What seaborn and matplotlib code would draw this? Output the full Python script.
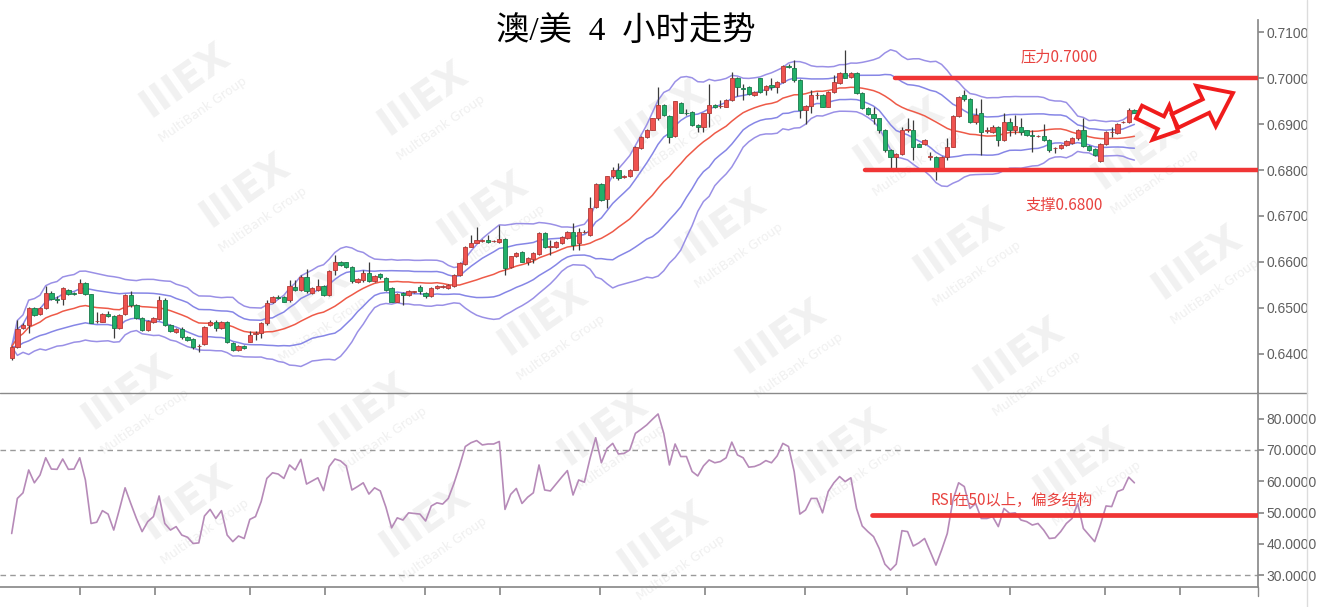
import numpy as np
import pandas as pd
import matplotlib
matplotlib.use("Agg")
import matplotlib.pyplot as plt
import seaborn as sns
from matplotlib.patches import Polygon
from matplotlib.lines import Line2D

sns.set_theme(style="white")
plt.rcParams["font.family"] = ["Liberation Sans", "Noto Sans CJK SC", "DejaVu Sans"]

W, H = 1334, 607

open_ = [0.6391, 0.6416, 0.6456, 0.6463, 0.6499, 0.6487, 0.6499, 0.6533, 0.6519, 0.6519,
         0.6539, 0.6532, 0.6533, 0.6555, 0.6530, 0.6471, 0.6470, 0.6488, 0.6483, 0.6456,
         0.6487, 0.6528, 0.6507, 0.6479, 0.6452, 0.6470, 0.6475, 0.6517, 0.6463, 0.6448,
         0.6454, 0.6438, 0.6432, 0.6417, 0.6422, 0.6463, 0.6470, 0.6456, 0.6470, 0.6423,
         0.6409, 0.6417, 0.6427, 0.6444, 0.6445, 0.6468, 0.6512, 0.6524, 0.6524, 0.6517,
         0.6546, 0.6539, 0.6567, 0.6533, 0.6539, 0.6548, 0.6528, 0.6583, 0.6601, 0.6599,
         0.6590, 0.6557, 0.6561, 0.6577, 0.6559, 0.6573, 0.6565, 0.6543, 0.6514, 0.6532,
         0.6528, 0.6535, 0.6545, 0.6533, 0.6526, 0.6543, 0.6546, 0.6543, 0.6548, 0.6572,
         0.6596, 0.6633, 0.6642, 0.6646, 0.6648, 0.6645, 0.6644, 0.6650, 0.6590, 0.6613,
         0.6622, 0.6601, 0.6606, 0.6617, 0.6664, 0.6632, 0.6632, 0.6642, 0.6652, 0.6666,
         0.6641, 0.6665, 0.6659, 0.6719, 0.6770, 0.6736, 0.6786, 0.6800, 0.6784, 0.6786,
         0.6801, 0.6847, 0.6871, 0.6888, 0.6912, 0.6941, 0.6917, 0.6874, 0.6946, 0.6925,
         0.6927, 0.6898, 0.6893, 0.6923, 0.6941, 0.6939, 0.6938, 0.6952, 0.7001, 0.6978,
         0.6981, 0.6963, 0.6999, 0.6973, 0.6985, 0.6981, 0.6992, 0.7026, 0.7021, 0.6996,
         0.6930, 0.6939, 0.6962, 0.6963, 0.6938, 0.6970, 0.6990, 0.7010, 0.7003, 0.7010,
         0.6967, 0.6934, 0.6922, 0.6912, 0.6888, 0.6843, 0.6829, 0.6835, 0.6888, 0.6887,
         0.6857, 0.6857, 0.6829, 0.6829, 0.6804, 0.6828, 0.6851, 0.6917, 0.6963, 0.6954,
         0.6905, 0.6923, 0.6885, 0.6883, 0.6893, 0.6865, 0.6905, 0.6886, 0.6893, 0.6886,
         0.6876, 0.6874, 0.6873, 0.6865, 0.6847, 0.6847, 0.6854, 0.6859, 0.6869, 0.6887,
         0.6852, 0.6845, 0.6820, 0.6857, 0.6882, 0.6880, 0.6904, 0.6905, 0.6930]
high = [0.6417, 0.6474, 0.6467, 0.6503, 0.6503, 0.6502, 0.6548, 0.6536, 0.6525, 0.6546,
        0.6542, 0.6534, 0.6562, 0.6557, 0.6531, 0.6492, 0.6489, 0.6494, 0.6485, 0.6487,
        0.6530, 0.6536, 0.6509, 0.6481, 0.6474, 0.6480, 0.6525, 0.6521, 0.6465, 0.6456,
        0.6458, 0.6440, 0.6434, 0.6422, 0.6461, 0.6473, 0.6474, 0.6472, 0.6472, 0.6425,
        0.6419, 0.6419, 0.6449, 0.6449, 0.6470, 0.6517, 0.6526, 0.6528, 0.6526, 0.6561,
        0.6561, 0.6572, 0.6584, 0.6545, 0.6562, 0.6550, 0.6583, 0.6615, 0.6603, 0.6601,
        0.6592, 0.6566, 0.6583, 0.6599, 0.6572, 0.6577, 0.6567, 0.6546, 0.6532, 0.6534,
        0.6540, 0.6538, 0.6550, 0.6535, 0.6545, 0.6550, 0.6549, 0.6552, 0.6574, 0.6599,
        0.6635, 0.6659, 0.6677, 0.6649, 0.6659, 0.6648, 0.6680, 0.6652, 0.6614, 0.6622,
        0.6624, 0.6610, 0.6621, 0.6666, 0.6666, 0.6648, 0.6646, 0.6657, 0.6668, 0.6684,
        0.6673, 0.6670, 0.6742, 0.6772, 0.6772, 0.6788, 0.6807, 0.6815, 0.6789, 0.6803,
        0.6853, 0.6873, 0.6890, 0.6914, 0.6981, 0.6943, 0.6919, 0.6951, 0.6948, 0.6932,
        0.6929, 0.6900, 0.6925, 0.6988, 0.6943, 0.6952, 0.6954, 0.7012, 0.7003, 0.6988,
        0.6983, 0.6972, 0.7001, 0.6985, 0.6999, 0.6994, 0.7028, 0.7030, 0.7039, 0.6998,
        0.6941, 0.6975, 0.6970, 0.6965, 0.6972, 0.7007, 0.7012, 0.7061, 0.7012, 0.7012,
        0.6969, 0.6936, 0.6938, 0.6914, 0.6890, 0.6845, 0.6837, 0.6893, 0.6912, 0.6909,
        0.6859, 0.6867, 0.6840, 0.6831, 0.6831, 0.6869, 0.6919, 0.6961, 0.6974, 0.6956,
        0.6934, 0.6954, 0.6893, 0.6898, 0.6895, 0.6923, 0.6912, 0.6920, 0.6912, 0.6888,
        0.6887, 0.6876, 0.6901, 0.6867, 0.6851, 0.6856, 0.6866, 0.6871, 0.6889, 0.6912,
        0.6854, 0.6847, 0.6859, 0.6885, 0.6894, 0.6903, 0.6907, 0.6934, 0.6932]
low = [0.6387, 0.6412, 0.6454, 0.6445, 0.6483, 0.6485, 0.6497, 0.6517, 0.6510, 0.6507,
       0.6528, 0.6529, 0.6532, 0.6529, 0.6467, 0.6467, 0.6469, 0.6480, 0.6434, 0.6454,
       0.6485, 0.6503, 0.6476, 0.6450, 0.6450, 0.6468, 0.6474, 0.6461, 0.6447, 0.6446,
       0.6432, 0.6428, 0.6410, 0.6405, 0.6420, 0.6461, 0.6449, 0.6454, 0.6423, 0.6406,
       0.6407, 0.6411, 0.6426, 0.6430, 0.6434, 0.6463, 0.6510, 0.6519, 0.6512, 0.6514,
       0.6536, 0.6536, 0.6533, 0.6531, 0.6538, 0.6526, 0.6526, 0.6572, 0.6592, 0.6588,
       0.6554, 0.6555, 0.6557, 0.6557, 0.6557, 0.6562, 0.6536, 0.6512, 0.6512, 0.6507,
       0.6526, 0.6533, 0.6530, 0.6521, 0.6524, 0.6541, 0.6544, 0.6541, 0.6546, 0.6570,
       0.6594, 0.6632, 0.6641, 0.6644, 0.6642, 0.6643, 0.6642, 0.6572, 0.6588, 0.6611,
       0.6599, 0.6594, 0.6597, 0.6615, 0.6631, 0.6615, 0.6630, 0.6640, 0.6650, 0.6626,
       0.6626, 0.6663, 0.6657, 0.6717, 0.6733, 0.6717, 0.6782, 0.6778, 0.6782, 0.6784,
       0.6799, 0.6845, 0.6869, 0.6886, 0.6909, 0.6918, 0.6858, 0.6872, 0.6923, 0.6920,
       0.6896, 0.6883, 0.6883, 0.6894, 0.6934, 0.6934, 0.6936, 0.6951, 0.6961, 0.6952,
       0.6963, 0.6961, 0.6968, 0.6963, 0.6975, 0.6967, 0.6990, 0.7021, 0.6992, 0.6912,
       0.6901, 0.6923, 0.6954, 0.6936, 0.6936, 0.6967, 0.6988, 0.6999, 0.7001, 0.6965,
       0.6932, 0.6920, 0.6901, 0.6880, 0.6840, 0.6804, 0.6804, 0.6833, 0.6883, 0.6822,
       0.6849, 0.6855, 0.6822, 0.6778, 0.6802, 0.6822, 0.6849, 0.6915, 0.6949, 0.6903,
       0.6901, 0.6833, 0.6881, 0.6880, 0.6852, 0.6864, 0.6873, 0.6878, 0.6876, 0.6874,
       0.6840, 0.6872, 0.6862, 0.6840, 0.6836, 0.6845, 0.6852, 0.6857, 0.6865, 0.6851,
       0.6841, 0.6831, 0.6818, 0.6855, 0.6872, 0.6878, 0.6902, 0.6903, 0.6923]
close = [0.6416, 0.6454, 0.6463, 0.6499, 0.6485, 0.6499, 0.6533, 0.6519, 0.6518, 0.6543,
         0.6530, 0.6531, 0.6554, 0.6530, 0.6468, 0.6472, 0.6487, 0.6483, 0.6456, 0.6485,
         0.6528, 0.6507, 0.6478, 0.6452, 0.6472, 0.6478, 0.6517, 0.6463, 0.6449, 0.6454,
         0.6436, 0.6430, 0.6416, 0.6418, 0.6459, 0.6470, 0.6456, 0.6470, 0.6425, 0.6409,
         0.6417, 0.6412, 0.6441, 0.6445, 0.6468, 0.6510, 0.6523, 0.6521, 0.6514, 0.6548,
         0.6539, 0.6567, 0.6536, 0.6543, 0.6548, 0.6528, 0.6581, 0.6601, 0.6594, 0.6590,
         0.6559, 0.6564, 0.6577, 0.6559, 0.6570, 0.6567, 0.6539, 0.6514, 0.6530, 0.6528,
         0.6538, 0.6536, 0.6536, 0.6525, 0.6543, 0.6548, 0.6547, 0.6550, 0.6572, 0.6597,
         0.6633, 0.6642, 0.6648, 0.6647, 0.6644, 0.6646, 0.6650, 0.6588, 0.6612, 0.6620,
         0.6601, 0.6608, 0.6619, 0.6664, 0.6633, 0.6634, 0.6644, 0.6655, 0.6666, 0.6637,
         0.6666, 0.6666, 0.6717, 0.6770, 0.6735, 0.6786, 0.6800, 0.6782, 0.6787, 0.6801,
         0.6851, 0.6871, 0.6888, 0.6912, 0.6941, 0.6920, 0.6871, 0.6949, 0.6925, 0.6924,
         0.6898, 0.6893, 0.6923, 0.6941, 0.6936, 0.6940, 0.6952, 0.6999, 0.6981, 0.6977,
         0.6965, 0.6970, 0.6970, 0.6983, 0.6980, 0.6992, 0.7026, 0.7023, 0.6996, 0.6930,
         0.6939, 0.6963, 0.6963, 0.6938, 0.6970, 0.6992, 0.7010, 0.7001, 0.7010, 0.6967,
         0.6934, 0.6922, 0.6912, 0.6887, 0.6843, 0.6828, 0.6835, 0.6888, 0.6889, 0.6851,
         0.6851, 0.6865, 0.6830, 0.6804, 0.6829, 0.6851, 0.6917, 0.6959, 0.6954, 0.6905,
         0.6920, 0.6883, 0.6886, 0.6893, 0.6865, 0.6905, 0.6887, 0.6896, 0.6883, 0.6876,
         0.6873, 0.6874, 0.6865, 0.6843, 0.6848, 0.6854, 0.6864, 0.6869, 0.6887, 0.6852,
         0.6843, 0.6833, 0.6857, 0.6883, 0.6883, 0.6901, 0.6905, 0.6930, 0.6925]
rsi = [43.3, 54.5, 56.3, 63.6, 59.5, 62.0, 67.5, 63.9, 63.8, 67.1,
       63.8, 63.9, 67.5, 60.4, 46.5, 46.9, 50.6, 49.5, 44.4, 51.0,
       57.9, 52.9, 48.1, 43.9, 47.1, 48.7, 55.3, 46.5, 44.4, 45.5,
       42.8, 42.1, 40.1, 40.3, 48.9, 51.0, 48.1, 50.6, 42.8, 40.7,
       42.5, 41.7, 47.8, 48.7, 53.5, 60.9, 62.7, 62.3, 60.9, 65.2,
       63.6, 67.0, 59.1, 60.1, 61.1, 57.0, 64.7, 67.1, 66.5, 64.9,
       57.2, 58.3, 59.5, 55.9, 57.9, 56.9, 51.7, 45.1, 48.3, 47.6,
       49.9, 49.7, 49.5, 47.3, 52.1, 53.1, 52.7, 54.5,
       59.3, 64.9, 71.1, 72.3, 73.0, 71.6, 71.9, 71.9, 72.7, 51.0,
       55.8, 57.7, 52.9, 54.9, 56.3, 65.2, 57.2, 56.9, 59.1, 61.3,
       63.4, 55.6, 60.4, 59.7, 67.3, 73.9, 65.9, 70.5, 72.1, 68.7,
       68.9, 70.0, 75.3, 76.6, 78.0, 79.8, 81.5, 75.3, 65.2, 71.9,
       67.9, 67.9, 63.1, 61.7, 64.9, 66.8, 65.9, 66.3, 67.5, 72.5,
       68.4, 67.5, 64.5, 64.7, 65.4, 66.6, 65.9, 68.1, 72.1, 71.1,
       63.1, 49.5, 50.8, 54.5, 54.5, 49.9, 56.7, 59.5, 61.5, 59.9,
       61.1, 51.3, 45.7, 43.9, 42.3, 38.5, 33.5,
       31.6, 33.5, 44.2, 43.9, 39.3, 40.3, 41.7, 37.5, 33.2, 38.0,
       43.3, 54.0, 59.5, 58.3, 51.3, 52.9, 48.1, 48.1, 48.7, 45.5,
       51.3, 49.7, 49.9, 47.6, 47.1, 46.0, 46.5, 44.4, 41.7, 41.9,
       43.9, 46.5, 48.1, 52.9, 44.9, 42.8, 40.7, 46.0, 52.1, 51.9,
       56.7, 57.4, 61.3, 59.5]

price_ticks = [0.6400, 0.6500, 0.6600, 0.6700, 0.6800, 0.6900, 0.7000, 0.7100]
rsi_ticks = [30, 40, 50, 60, 70, 80]
date_ticks = [12.0, 25.3, 42.0, 55.3, 72.9, 86.1, 103.8, 122.3, 139.9, 157.9, 176.1, 192.8, 206.0]
resistance = 0.7000
support = 0.6800
rsi_level = 49.2
title = "澳/美  4  小时走势"
res_label = "压力0.7000"
sup_label = "支撑0.6800"
rsi_label = "RSI在50以上，偏多结构"

df = pd.DataFrame({"open": open_, "high": high, "low": low, "close": close, "rsi": rsi})
df["x"] = np.arange(len(df))
roll = df["close"].rolling(20, min_periods=1)
df["mid"] = roll.mean()
sd = roll.std(ddof=0).fillna(0)
df["up1"] = df["mid"] + sd
df["dn1"] = df["mid"] - sd
df["up2"] = df["mid"] + 2 * sd
df["dn2"] = df["mid"] - 2 * sd

fig = plt.figure(figsize=(W / 100, H / 100), dpi=100)
fig.patch.set_facecolor("white")


def fx(p):
    return p / W


def fy(p):
    return 1 - p / H


# faint watermarks (kept fully inside the picture)
for r in range(-1, 6):
    for k in range(-1, 7):
        cx = 185 + 60 * r + 238 * k
        cy = 80 + 110 * r + 18 * k
        if 75 < cx < 1240 and 55 < cy < 545:
            fig.text(fx(cx), fy(cy), "IIIEX", fontsize=28, fontweight="bold", color="#f1f1f1",
                     rotation=35, ha="center", va="center", zorder=-5, family="DejaVu Sans")
            fig.text(fx(cx + 18), fy(cy + 30), "MultiBank Group", fontsize=9, color="#f0f0f0",
                     rotation=35, ha="center", va="center", zorder=-5, family="DejaVu Sans")

ax = fig.add_axes([0, fy(393), fx(1258), (393 - 20) / H])
ax2 = fig.add_axes([0, fy(587), fx(1258), (587 - 393) / H], sharex=ax)
for a in (ax, ax2):
    a.set_facecolor("none")

xmin, xmax = -2.06, 219.8
ax.set_xlim(xmin, xmax)
ax.set_ylim(0.63152, 0.71261)
ax2.set_ylim(26.2, 88.2)

# candles
up = df["close"] >= df["open"]
blo = np.minimum(df["open"], df["close"])
bh = np.maximum((df["close"] - df["open"]).abs(), 0.00007)
ax.vlines(df["x"], df["low"], df["high"], color="#3c3c3c", lw=0.9, zorder=3)
ax.bar(df["x"][up], bh[up], bottom=blo[up], width=0.76, color="#ef5350", edgecolor="#b03a36",
       lw=0.6, zorder=4)
ax.bar(df["x"][~up], bh[~up], bottom=blo[~up], width=0.76, color="#22b06a", edgecolor="#187a4a",
       lw=0.6, zorder=4)

# Bollinger bands
for col, c in (("up2", "#9a90e6"), ("up1", "#8686e6"), ("dn1", "#8686e6"), ("dn2", "#9a90e6")):
    sns.lineplot(data=df, x="x", y=col, ax=ax, color=c, lw=1.1, zorder=2)
sns.lineplot(data=df, x="x", y="mid", ax=ax, color="#ee5a48", lw=1.1, zorder=2)

# levels
ax.axhline(resistance, xmin=895 / 1258, xmax=1, color="#f03535", lw=3.2, zorder=5)
ax.axhline(support, xmin=865 / 1258, xmax=1, color="#f03535", lw=3.2, zorder=5)

# RSI
ax2.axhline(70, color="#9a9a9a", lw=1, ls=(0, (4, 3)))
ax2.axhline(30, color="#9a9a9a", lw=1, ls=(0, (4, 3)))
sns.lineplot(data=df, x="x", y="rsi", ax=ax2, color="#b68ab8", lw=1.2, zorder=3)
ax2.axhline(rsi_level, xmin=872 / 1258, xmax=1, color="#f03535", lw=3.4, zorder=4)

# axes styling
for a in (ax, ax2):
    a.set_xlabel("")
    a.set_ylabel("")
    a.yaxis.tick_right()
    for s in ("left", "top", "bottom", "right"):
        a.spines[s].set_visible(False)
    a.spines["right"].set_visible(True)
    a.spines["right"].set_color("#8a8a8a")
    a.tick_params(axis="y", direction="out", length=4, color="#8a8a8a", labelcolor="#5f5f5f",
                  labelsize=10, pad=2)
ax.set_yticks(price_ticks)
ax.set_yticklabels([f"{v:.4f}" for v in price_ticks])
ax2.set_yticks(rsi_ticks)
ax2.set_yticklabels([f"{v:.4f}" for v in rsi_ticks])
ax.tick_params(axis="x", bottom=False, labelbottom=False)
ax2.spines["bottom"].set_visible(True)
ax2.spines["bottom"].set_color("#8a8a8a")
ax2.set_xticks(date_ticks)
ax2.set_xticklabels([""] * len(date_ticks))
ax2.tick_params(axis="x", bottom=True, direction="out", length=6, color="#8a8a8a")
ax2.set_xlim(xmin, xmax)

# frame lines
fig.add_artist(Line2D([0, fx(1307)], [fy(393), fy(393)], color="#8a8a8a", lw=1))
fig.add_artist(Line2D([fx(1307), fx(1307)], [0, 1], color="#dcdcdc", lw=1))
fig.add_artist(Line2D([fx(1258), fx(1258)], [fy(587), fy(596)], color="#8a8a8a", lw=1))

# annotations
fig.text(fx(626), fy(31), title, fontsize=24, ha="center", va="center", color="black",
         family=["Liberation Serif", "Noto Sans CJK SC"], zorder=10)
fig.text(fx(1059), fy(57), res_label, fontsize=11, ha="center", va="center", color="#e8423f",
         family=["Noto Sans CJK SC"], zorder=10)
fig.text(fx(1064), fy(205), sup_label, fontsize=11, ha="center", va="center", color="#e8423f",
         family=["Noto Sans CJK SC"], zorder=10)
fig.text(fx(1012), fy(500), rsi_label, fontsize=11, ha="center", va="center", color="#e8423f",
         family=["Noto Sans CJK SC"], zorder=10)


def arrow_poly(x0, y0, x1, y1, sw, hw, hl):
    d = np.array([x1 - x0, y1 - y0], dtype=float)
    u = d / np.hypot(*d)
    n = np.array([-u[1], u[0]])
    p0 = np.array([x0, y0], dtype=float)
    tip = np.array([x1, y1], dtype=float)
    base = tip - u * hl
    pts = [p0 + n * sw / 2, base + n * sw / 2, base + n * hw / 2, tip,
           base - n * hw / 2, base - n * sw / 2, p0 - n * sw / 2]
    return [(fx(p[0]), fy(p[1])) for p in pts]


for spec in ((1139, 112, 1178, 131, 14, 38, 19), (1175, 121, 1233, 93, 15, 45, 30)):
    fig.add_artist(Polygon(arrow_poly(*spec), closed=True, facecolor="white", edgecolor="#f01c1c",
                           lw=2.8, zorder=12, transform=fig.transFigure))

fig.savefig("out.png", dpi=100, facecolor="white")
